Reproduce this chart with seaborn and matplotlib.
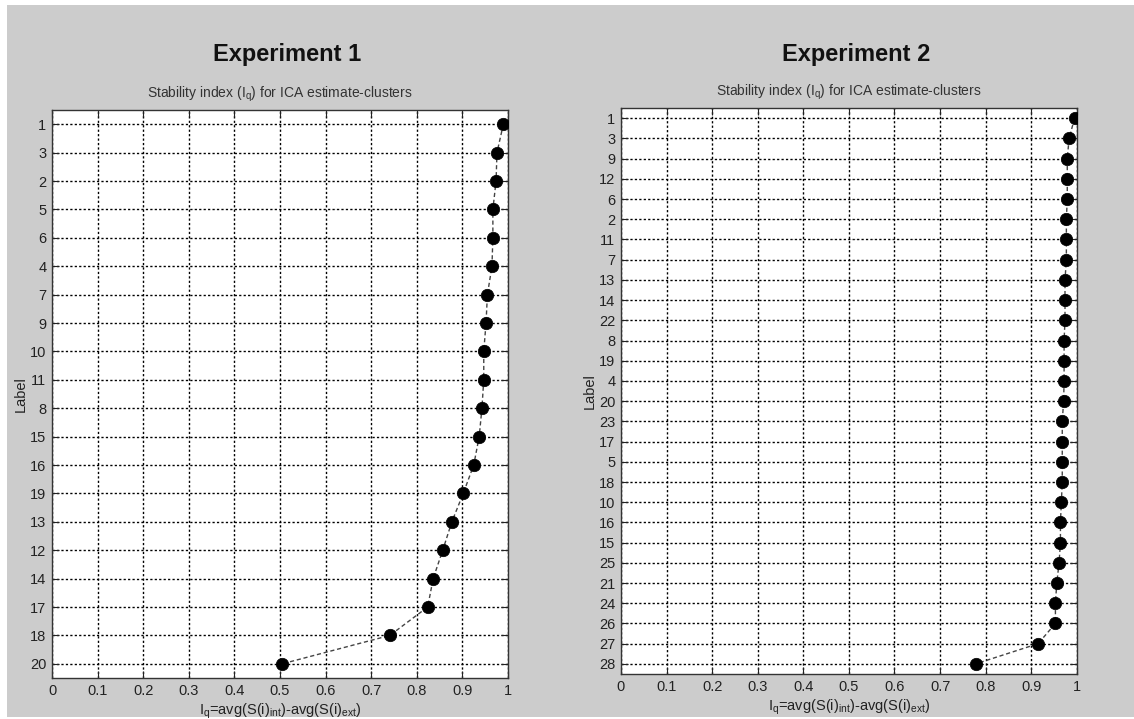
import numpy as np
import matplotlib
matplotlib.use("Agg")
import matplotlib.pyplot as plt
import seaborn as sns
from matplotlib.patches import Rectangle

# Experiment 1: cluster labels (top to bottom) and stability index
labels_1 = [1, 3, 2, 5, 6, 4, 7, 9, 10, 11, 8, 15, 16, 19, 13, 12, 14, 17, 18, 20]
iq_1 = [0.990, 0.976, 0.974, 0.967, 0.967, 0.965, 0.955, 0.952, 0.947, 0.947,
        0.943, 0.937, 0.925, 0.902, 0.877, 0.857, 0.836, 0.824, 0.741, 0.505]

# Experiment 2
labels_2 = [1, 3, 9, 12, 6, 2, 11, 7, 13, 14, 22, 8, 19, 4, 20, 23, 17, 5, 18, 10,
            16, 15, 25, 21, 24, 26, 27, 28]
iq_2 = [0.995, 0.983, 0.979, 0.979, 0.979, 0.977, 0.977, 0.977, 0.974, 0.974,
        0.974, 0.972, 0.972, 0.972, 0.971, 0.968, 0.968, 0.968, 0.968, 0.966,
        0.964, 0.964, 0.961, 0.956, 0.953, 0.953, 0.915, 0.778]

x_ticks = [0, 0.1, 0.2, 0.3, 0.4, 0.5, 0.6, 0.7, 0.8, 0.9, 1]
x_ticklabels = ["0", "0.1", "0.2", "0.3", "0.4", "0.5", "0.6", "0.7", "0.8", "0.9", "1"]

sns.set_theme(style="white")
plt.rcParams["font.family"] = ["Liberation Sans", "DejaVu Sans"]
plt.rcParams["mathtext.fontset"] = "custom"
plt.rcParams["mathtext.rm"] = "Liberation Sans"
plt.rcParams["mathtext.it"] = "Liberation Sans"

bg = "#cccccc"
fig = plt.figure(figsize=(11.34, 7.19), dpi=100, facecolor="white")
# gray panel (white margin on left/top like the screenshot)
fig.patches.append(Rectangle((7 / 1134, 2 / 719), 1 - 7 / 1134, 1 - 7 / 719,
                             transform=fig.transFigure, facecolor=bg,
                             edgecolor="none", zorder=-10))

ax1 = fig.add_axes([0.0459, 0.057, 0.402, 0.790])
ax2 = fig.add_axes([0.5476, 0.0626, 0.402, 0.787])

panels = [
    (ax1, labels_1, iq_1, "Experiment 1"),
    (ax2, labels_2, iq_2, "Experiment 2"),
]

xlab = r"$\mathrm{I_q}$=avg(S(i)$_{\mathrm{int}}$)-avg(S(i)$_{\mathrm{ext}}$)"

for ax, labels, vals, title in panels:
    pos = np.arange(1, len(labels) + 1)
    ax.set_facecolor("white")
    sns.lineplot(x=vals, y=pos, sort=False, estimator=None, ax=ax,
                 color="#444444", linestyle=(0, (3, 2)), linewidth=1.0, zorder=3)
    sns.scatterplot(x=vals, y=pos, ax=ax, color="black", s=80,
                    edgecolor="black", linewidth=0.5, zorder=4)
    ax.set_xlim(0, 1)
    ax.set_ylim(len(labels) + 0.5, 0.5)
    ax.set_xticks(x_ticks)
    ax.set_xticklabels(x_ticklabels)
    ax.set_yticks(pos)
    ax.set_yticklabels([str(l) for l in labels])
    ax.grid(True, color="black", linestyle=(0, (1.6, 1.6)), linewidth=1.0)
    ax.set_axisbelow(True)
    ax.tick_params(direction="in", length=5, width=0.8, colors="#222222",
                   labelsize=10.5, top=True, right=True, left=True, bottom=True,
                   pad=4)
    for s in ax.spines.values():
        s.set_color("#333333")
        s.set_linewidth(1.0)
        s.set_visible(True)
    ax.set_xlabel(xlab, fontsize=10.5, color="#222222", labelpad=3)
    ax.set_ylabel("Label", fontsize=10.5, color="#222222", labelpad=2)
    ax.set_title("Stability index (I$_\\mathrm{q}$) for ICA estimate-clusters",
                 fontsize=10, color="#333333", pad=9)
    bb = ax.get_position()
    fig.text((bb.x0 + bb.x1) / 2 + 0.006, 1 - 55 / 719, title, ha="center",
             va="center", fontsize=17, fontweight="bold", color="#111111")

fig.savefig("out.png", dpi=100, facecolor=fig.get_facecolor())
